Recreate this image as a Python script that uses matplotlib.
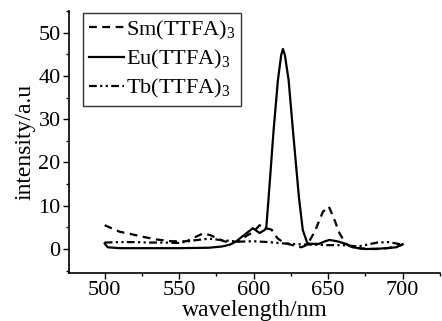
import matplotlib
matplotlib.use("Agg")
import matplotlib.pyplot as plt
from matplotlib.ticker import MultipleLocator

plt.rcParams['font.family'] = ['Liberation Serif', 'DejaVu Serif']
plt.rcParams['mathtext.fontset'] = 'custom'
plt.rcParams['mathtext.rm'] = 'Liberation Serif'

# Eu(TTFA)3
eu_wl = [500, 502, 510, 530, 550, 570, 579, 584, 588, 592, 595, 599.5, 604, 607.4, 608.5, 610.1, 613.4, 616.3, 618.5, 619.7, 621, 623.5, 626.4, 630.4, 633, 636, 638, 644, 648, 651, 656, 661, 666.5, 675.5, 685, 695.7, 700]
eu_int = [1.3, 0.4, 0.2, 0.2, 0.2, 0.3, 0.6, 1.0, 1.7, 2.8, 3.6, 4.8, 3.7, 4.4, 5.0, 12.0, 27.4, 39.0, 44.8, 46.2, 44.8, 39.0, 27.4, 12.0, 4.4, 1.4, 1.2, 1.2, 1.8, 2.1, 1.8, 1.3, 0.4, 0.0, 0.1, 0.4, 1.1]

# Sm(TTFA)3
sm_wl = [500, 510, 517, 526, 535, 545, 555, 561, 566, 571, 576, 580, 585, 590, 595, 600, 604, 608, 612, 616, 620, 626, 632, 636, 641, 646.5, 650.5, 654, 657.7, 662, 666, 672, 682, 690, 696, 700]
sm_int = [5.5, 4.0, 3.5, 2.8, 2.2, 1.8, 1.8, 2.8, 3.6, 3.2, 2.4, 1.8, 1.5, 1.8, 3.0, 4.0, 5.5, 4.8, 4.5, 2.5, 1.5, 0.9, 0.4, 1.0, 4.0, 8.6, 9.8, 7.0, 3.6, 1.2, 0.5, 0.1, 0.0, 0.2, 0.6, 1.0]

# Tb(TTFA)3
tb_wl = [500, 510, 520, 530, 540, 550, 560, 570, 580, 590, 600, 610, 620, 630, 640, 650, 660, 670, 676, 683, 691, 700]
tb_int = [1.5, 1.6, 1.6, 1.5, 1.5, 1.4, 2.0, 2.4, 2.0, 1.7, 1.8, 1.6, 1.3, 1.1, 1.0, 0.9, 0.9, 0.6, 1.0, 1.5, 1.6, 1.0]

labels = ['Sm(TTFA)$_3$', 'Eu(TTFA)$_3$', 'Tb(TTFA)$_3$']
xticks = [500, 550, 600, 650, 700]
yticks = [0, 10, 20, 30, 40, 50]

fig = plt.figure(figsize=(4.42, 3.21), dpi=100)
ax = fig.add_axes([0.156, 0.150, 0.839, 0.816])

ax.plot(sm_wl, sm_int, color='black', lw=1.6, linestyle=(0, (3.5, 2.5)), label=labels[0])
ax.plot(eu_wl, eu_int, color='black', lw=1.6, linestyle='-', label=labels[1])
ax.plot(tb_wl, tb_int, color='black', lw=1.6, linestyle=(0, (3.5, 1.5, 1, 1.5, 1, 1.5)), label=labels[2])

ax.set_xlim(476, 725)
ax.set_ylim(-5.5, 55)
ax.set_xticks(xticks)
ax.set_yticks(yticks)
ax.xaxis.set_minor_locator(MultipleLocator(25))
ax.yaxis.set_minor_locator(MultipleLocator(5))
ax.tick_params(axis='both', which='major', labelsize=16, direction='out', length=4, width=1, pad=2)
ax.tick_params(axis='both', which='minor', direction='out', length=2.5, width=1)

ax.spines['top'].set_visible(False)
ax.spines['right'].set_visible(False)
for s in ['left', 'bottom']:
    ax.spines[s].set_linewidth(1.2)

ax.set_xlabel('wavelength/nm', fontsize=17, labelpad=0)
ax.set_ylabel('intensity/a.u', fontsize=17, labelpad=2)

leg = ax.legend(loc='upper left', bbox_to_anchor=(0.038, 0.992), borderaxespad=0,
                fontsize=16, frameon=True, fancybox=False, edgecolor='black',
                handlelength=1.6, handletextpad=0.1, labelspacing=0.28, borderpad=0.25)
leg.get_frame().set_linewidth(1.0)

fig.savefig('out.png', dpi=100)
